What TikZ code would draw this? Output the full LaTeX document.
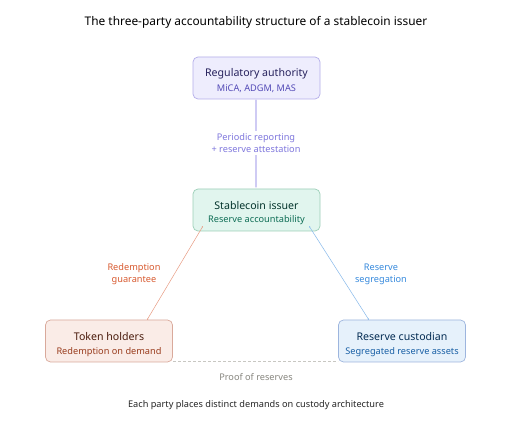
\documentclass[tikz,border=0pt]{standalone}
\usepackage{fontspec}
\setmainfont{Noto Sans}
\usetikzlibrary{arrows.meta}
\definecolor{regfill}{HTML}{EEEDFD}
\definecolor{regdraw}{HTML}{B4AEEA}
\definecolor{regtext}{HTML}{26215C}
\definecolor{regsub}{HTML}{534AB7}
\definecolor{regline}{HTML}{CFCBF4}
\definecolor{reglab}{HTML}{7F77DD}
\definecolor{issfill}{HTML}{E1F5EE}
\definecolor{issdraw}{HTML}{9CCFB8}
\definecolor{isstext}{HTML}{04342C}
\definecolor{isssub}{HTML}{0F6E56}
\definecolor{tokfill}{HTML}{FAECE7}
\definecolor{tokdraw}{HTML}{D9A99B}
\definecolor{toktext}{HTML}{4A1B0C}
\definecolor{toksub}{HTML}{993C1D}
\definecolor{toklab}{HTML}{D85A30}
\definecolor{resfill}{HTML}{E6F1FB}
\definecolor{resdraw}{HTML}{9DB5DE}
\definecolor{restext}{HTML}{042C53}
\definecolor{ressub}{HTML}{185FA5}
\definecolor{reslab}{HTML}{378ADD}
\definecolor{graytext}{HTML}{888780}
\definecolor{dashgray}{HTML}{C8C7C2}
\tikzset{
  x=1pt, y=-1pt,
  party/.style={draw=#1draw, fill=#1fill, rounded corners=5pt, line width=0.7pt,
    minimum width=127pt, minimum height=42pt, inner sep=0pt},
  ttl/.style={font=\fontsize{10.6}{13}\selectfont, text=#1text},
  sub/.style={font=\fontsize{9.2}{11}\selectfont, text=#1sub},
  lab/.style={font=\fontsize{9.2}{12}\selectfont, align=center, text=#1},
  tiptip/.style={{Latex[length=1.4pt,width=1.4pt]}-{Latex[length=1.4pt,width=1.4pt]}}
}
\begin{document}
\begin{tikzpicture}
\useasboundingbox (0,0) rectangle (512,422);
\fill[white] (0,0) rectangle (512,422);
\node[font=\fontsize{11.9}{14}\selectfont, text=black] (title) at (256,22) {The three-party accountability structure of a stablecoin issuer};

\node[party=reg] (reg) at (256.5,78) {};
\node[ttl=reg] (regt) at (256.5,74) {Regulatory authority};
\node[sub=reg] (regs) at (256.5,89) {MiCA, ADGM, MAS};

\coordinate (issTop) at (256,188);
\coordinate (regBot) at (256,99);
\draw[regline, line width=1.3pt, tiptip] (regBot) -- (issTop);
\node[lab=reglab, fill=white, inner sep=2pt] (replab) at (256,143) {Periodic reporting\\+ reserve attestation};

\node[party=iss] (iss) at (256.5,210) {};
\node[ttl=iss] (isst) at (256.5,206) {Stablecoin issuer};
\node[sub=iss] (isss) at (256.5,220) {Reserve accountability};

\node[party=tok] (tok) at (109,341) {};
\node[ttl=tok] (tokt) at (109,337) {Token holders};
\node[sub=tok] (toks) at (109,352) {Redemption on demand};

\node[party=res] (res) at (402,341) {};
\node[ttl=res] (rest) at (402,337) {Reserve custodian};
\node[sub=res] (ress) at (402,352) {Segregated reserve assets};

\coordinate (tokTop) at (147,320);
\coordinate (issL) at (203,226);
\coordinate (resTop) at (369,320);
\coordinate (issR) at (309,226);
\draw[toklab!60, line width=0.5pt, tiptip] (tokTop) -- (issL);
\draw[reslab!60, line width=0.5pt, tiptip] (resTop) -- (issR);
\node[lab=toklab] (redlab) at (134,274) {Redemption\\guarantee};
\node[lab=reslab] (seglab) at (381,274) {Reserve\\segregation};

\coordinate (tokBR) at (173,361);
\coordinate (resBL) at (338,361);
\draw[dashgray, line width=0.6pt, dash pattern=on 3pt off 2pt] (tokBR) -- (resBL);
\node[font=\fontsize{9.2}{11}\selectfont, text=graytext] (proof) at (256,377) {Proof of reserves};

\node[font=\fontsize{9.2}{11}\selectfont, text=black!85] (foot) at (256,405) {Each party places distinct demands on custody architecture};
\end{tikzpicture}
\end{document}
